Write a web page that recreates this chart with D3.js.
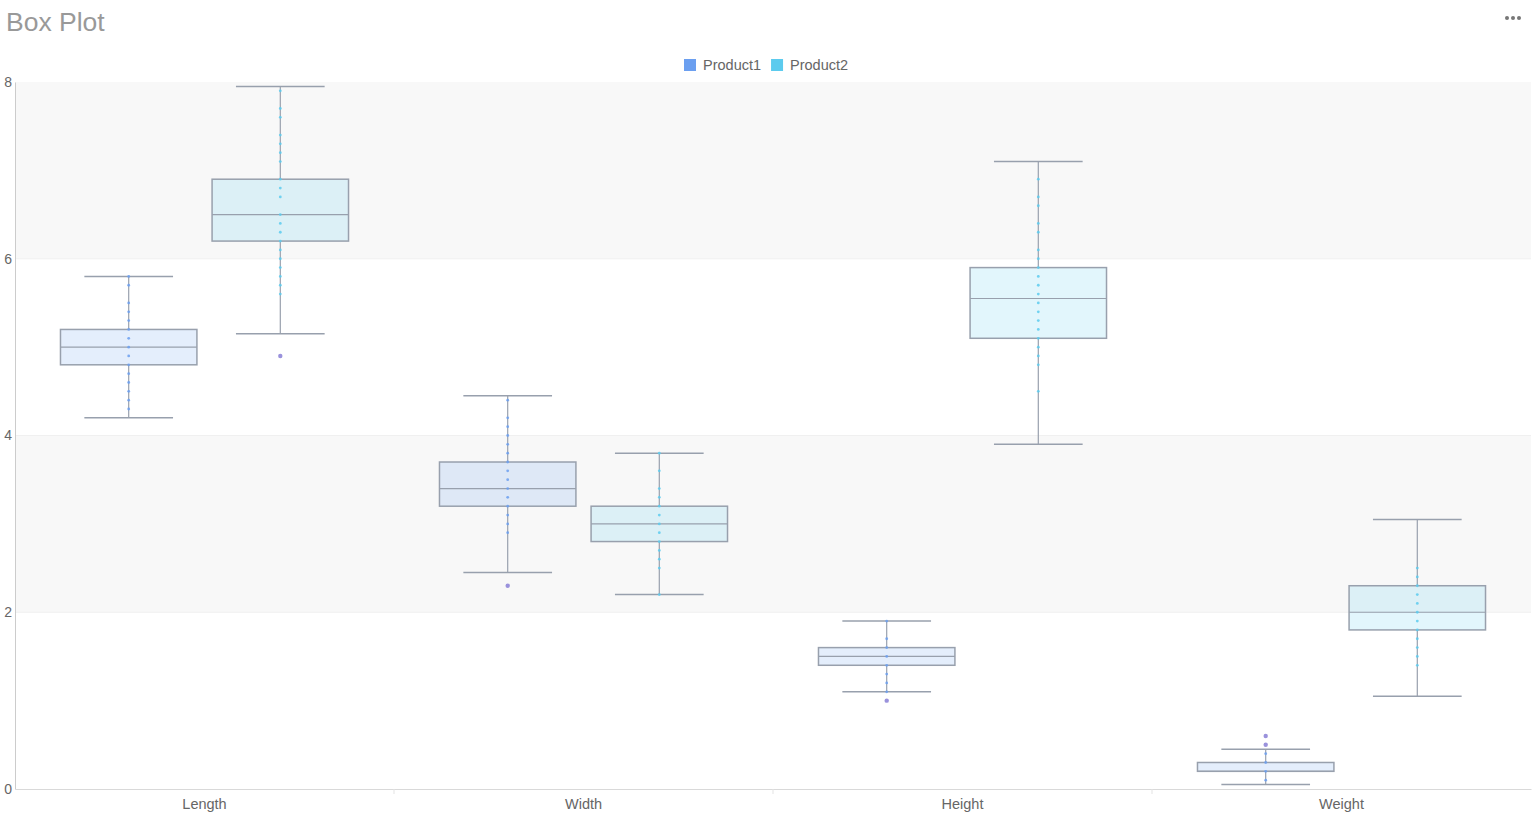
<!DOCTYPE html>
<html>
<head>
<meta charset="utf-8">
<script src="https://cdn.jsdelivr.net/npm/d3@7"></script>
<style>
  body { margin: 0; background: #fff; font-family: "Liberation Sans", Arial, sans-serif; }
  svg { display: block; }
</style>
</head>
<body>
<div id="chart"></div>
<script>
// Box plot data
var categories = ['Length', 'Width', 'Height', 'Weight'];
var products = ['Product1', 'Product2'];
var colors = ['#6b9ff0', '#5ccbee'];
var yTicks = [0, 2, 4, 6, 8];

// Product1
var low1    = [4.2, 2.45, 1.1, 0.05];
var q1_1    = [4.8, 3.2, 1.4, 0.2];
var median1 = [5.0, 3.4, 1.5, 0.2];
var q3_1    = [5.2, 3.7, 1.6, 0.3];
var high1   = [5.8, 4.45, 1.9, 0.45];
var points1 = [
  [4.3, 4.4, 4.5, 4.6, 4.7, 4.8, 4.9, 5.0, 5.1, 5.2, 5.3, 5.4, 5.5, 5.7, 5.8],
  [2.9, 3.0, 3.1, 3.2, 3.3, 3.4, 3.5, 3.6, 3.7, 3.8, 3.9, 4.0, 4.1, 4.2, 4.4],
  [1.1, 1.2, 1.3, 1.4, 1.5, 1.6, 1.7, 1.9],
  [0.1, 0.2, 0.3, 0.4]
];
var outliers1 = [[], [2.3], [1.0], [0.5, 0.6]];

// Product2
var low2    = [5.15, 2.2, 3.9, 1.05];
var q1_2    = [6.2, 2.8, 5.1, 1.8];
var median2 = [6.5, 3.0, 5.55, 2.0];
var q3_2    = [6.9, 3.2, 5.9, 2.3];
var high2   = [7.95, 3.8, 7.1, 3.05];
var points2 = [
  [5.6, 5.7, 5.8, 5.9, 6.0, 6.1, 6.2, 6.3, 6.4, 6.5, 6.7, 6.8, 6.9, 7.1, 7.2, 7.3, 7.4, 7.6, 7.7, 7.9],
  [2.2, 2.5, 2.6, 2.7, 2.8, 2.9, 3.0, 3.1, 3.2, 3.3, 3.4, 3.6, 3.8],
  [4.5, 4.8, 4.9, 5.0, 5.1, 5.2, 5.3, 5.4, 5.5, 5.6, 5.7, 5.8, 5.9, 6.0, 6.1, 6.3, 6.4, 6.6, 6.7, 6.9],
  [1.4, 1.5, 1.6, 1.7, 1.8, 1.9, 2.0, 2.1, 2.2, 2.3, 2.4, 2.5]
];
var outliers2 = [[4.9], [], [], []];

var W = 1533, H = 824;
var margin = { top: 82, right: 2, bottom: 35, left: 15 };

var svg = d3.select('#chart').append('svg')
  .attr('width', W)
  .attr('height', H);

// title and the "more" icon
svg.append('text')
  .attr('x', 6)
  .attr('y', 31)
  .attr('font-size', 26.5)
  .attr('fill', '#999')
  .text('Box Plot');

svg.append('g').selectAll('circle')
  .data([0, 1, 2])
  .enter().append('circle')
  .attr('cx', function(d) { return 1507 + d * 6; })
  .attr('cy', 18)
  .attr('r', 2)
  .attr('fill', '#777');

// legend
var legend = svg.append('g').attr('class', 'legend');
var lx = 684;
products.forEach(function(p, i) {
  var g = legend.append('g').attr('transform', 'translate(' + lx + ',59)');
  g.append('rect')
    .attr('width', 12).attr('height', 12)
    .attr('fill', colors[i]);
  var t = g.append('text')
    .attr('x', 19).attr('y', 11)
    .attr('font-size', 14.5)
    .attr('fill', '#666')
    .text(p);
  lx += 19 + t.node().getComputedTextLength() + 10;
});

var x0 = margin.left, x1 = W - margin.right;
var yTop = margin.top, yBot = H - margin.bottom;

var x = d3.scaleBand().domain(categories).range([x0, x1]);
var xSub = d3.scaleBand().domain(products)
  .range([x.bandwidth() * 0.1, x.bandwidth() * 0.9]);
var y = d3.scaleLinear().domain([0, 8]).range([yBot, yTop]);

// alternating background bands
var drawing = svg.append('g').attr('class', 'drawing');
drawing.selectAll('rect.band')
  .data(d3.pairs(yTicks))
  .enter().append('rect')
  .attr('class', 'band')
  .attr('x', x0)
  .attr('width', x1 - x0)
  .attr('y', function(d) { return y(d[1]); })
  .attr('height', function(d) { return y(d[0]) - y(d[1]); })
  .attr('fill', function(d, i) { return i % 2 ? '#f8f8f8' : '#fff'; });

drawing.selectAll('line.grid')
  .data(yTicks.slice(1, -1))
  .enter().append('line')
  .attr('class', 'grid')
  .attr('x1', x0).attr('x2', x1)
  .attr('y1', function(d) { return y(d); })
  .attr('y2', function(d) { return y(d); })
  .attr('stroke', '#f0f0f0');

// axes
var yAxis = svg.append('g')
  .attr('transform', 'translate(' + x0 + ',0)')
  .call(d3.axisLeft(y).tickValues(yTicks).tickSize(0).tickPadding(3));
yAxis.select('.domain').attr('stroke', '#ccc');
yAxis.selectAll('text')
  .attr('font-family', '"Liberation Sans", Arial, sans-serif')
  .attr('font-size', 14).attr('fill', '#666');

var xAxis = svg.append('g')
  .attr('transform', 'translate(0,' + yBot + ')')
  .call(d3.axisBottom(x).tickSize(0).tickPadding(10));
xAxis.select('.domain').attr('stroke', '#d9d9d9');
xAxis.selectAll('text')
  .attr('font-family', '"Liberation Sans", Arial, sans-serif')
  .attr('font-size', 14.5).attr('fill', '#666');

svg.append('g').selectAll('line')
  .data(categories.slice(1))
  .enter().append('line')
  .attr('x1', function(d) { return x(d); })
  .attr('x2', function(d) { return x(d); })
  .attr('y1', yBot).attr('y2', yBot + 5)
  .attr('stroke', '#e3e3e3');

// build per box records
var series = [
  { low: low1, q1: q1_1, median: median1, q3: q3_1, high: high1, points: points1, outliers: outliers1 },
  { low: low2, q1: q1_2, median: median2, q3: q3_2, high: high2, points: points2, outliers: outliers2 }
];
var boxes = [];
categories.forEach(function(c, ci) {
  products.forEach(function(p, pi) {
    var s = series[pi];
    boxes.push({
      category: c, product: p, color: colors[pi],
      low: s.low[ci], q1: s.q1[ci], median: s.median[ci], q3: s.q3[ci], high: s.high[ci],
      points: s.points[ci], outliers: s.outliers[ci]
    });
  });
});

var stroke = '#98a0ad';
var bw = xSub.bandwidth() * 0.9;
var cap = bw * 0.65;

var box = drawing.selectAll('g.box')
  .data(boxes)
  .enter().append('g')
  .attr('class', 'box')
  .attr('transform', function(d) {
    return 'translate(' + (x(d.category) + xSub(d.product) + xSub.bandwidth() / 2) + ',0)';
  });

// whiskers
box.append('line')
  .attr('y1', function(d) { return y(d.high); })
  .attr('y2', function(d) { return y(d.q3); })
  .attr('stroke', stroke).attr('stroke-width', 1.2);
box.append('line')
  .attr('y1', function(d) { return y(d.q1); })
  .attr('y2', function(d) { return y(d.low); })
  .attr('stroke', stroke).attr('stroke-width', 1.2);
['high', 'low'].forEach(function(k) {
  box.append('line')
    .attr('x1', -cap / 2).attr('x2', cap / 2)
    .attr('y1', function(d) { return y(d[k]); })
    .attr('y2', function(d) { return y(d[k]); })
    .attr('stroke', stroke).attr('stroke-width', 1.5);
});

// the box itself
box.append('rect')
  .attr('x', -bw / 2)
  .attr('width', bw)
  .attr('y', function(d) { return y(d.q3); })
  .attr('height', function(d) { return y(d.q1) - y(d.q3); })
  .attr('fill', function(d) { return d.color; })
  .attr('fill-opacity', 0.18)
  .attr('stroke', stroke)
  .attr('stroke-width', 1.5);

box.append('line')
  .attr('x1', -bw / 2).attr('x2', bw / 2)
  .attr('y1', function(d) { return y(d.median); })
  .attr('y2', function(d) { return y(d.median); })
  .attr('stroke', stroke).attr('stroke-width', 1.2);

// raw values
box.selectAll('circle.point')
  .data(function(d) { return d.points.map(function(v) { return { v: v, color: d.color }; }); })
  .enter().append('circle')
  .attr('class', 'point')
  .attr('cy', function(d) { return y(d.v); })
  .attr('r', 1.4)
  .attr('fill', function(d) { return d.color; })
  .attr('fill-opacity', 0.85);

// outliers
box.selectAll('circle.outlier')
  .data(function(d) { return d.outliers; })
  .enter().append('circle')
  .attr('class', 'outlier')
  .attr('cy', function(d) { return y(d); })
  .attr('r', 2.2)
  .attr('fill', '#8f86d8')
  .attr('fill-opacity', 0.9);
</script>
</body>
</html>
